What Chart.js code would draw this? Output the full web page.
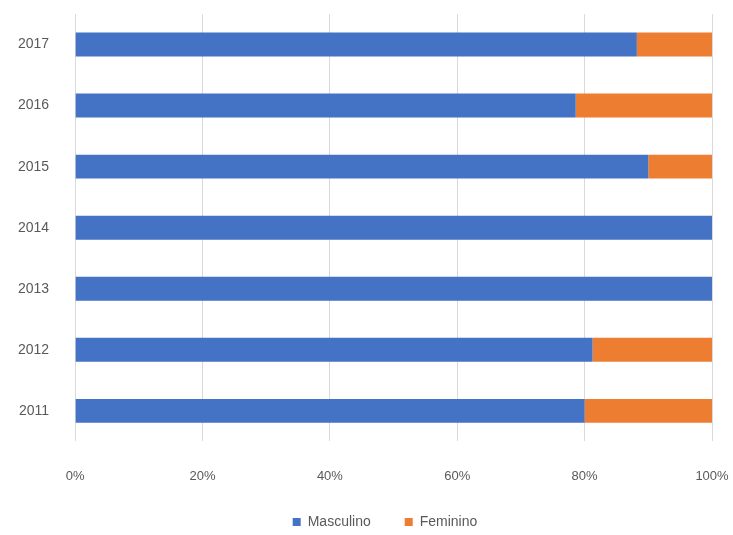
<!DOCTYPE html>
<html>
<head>
<meta charset="utf-8">
<script src="https://cdn.jsdelivr.net/npm/chart.js@4"></script>
<style>
  html, body { margin: 0; padding: 0; background: #fff; }
  #wrap { width: 733px; height: 535px; }
</style>
</head>
<body>
<div id="wrap"><canvas id="c"></canvas></div>
<script>
// 100% stacked bars by year, masculino vs feminino
const YEARS = ['2017', '2016', '2015', '2014', '2013', '2012', '2011'];
const MASCULINO = [88.2, 78.6, 90, 100, 100, 81.25, 80];
const FEMININO = [11.8, 21.4, 10, 0, 0, 18.75, 20];
const X_TICKS = [0, 20, 40, 60, 80, 100];

const FONT = { family: 'Liberation Sans, sans-serif', size: 13 };
const TEXT = '#595959';

// legend items spaced wide, but keep the legend box short and a bit right of centre
const legendHeight = {
  id: 'legendHeight',
  beforeInit(chart) {
    const fit = chart.legend.fit;
    chart.legend.fit = function () { fit.call(this); this.height = 54; };
  },
  afterLayout(chart) { chart.legend.left += 58; },
};

new Chart(document.getElementById('c').getContext('2d'), {
  type: 'bar',
  data: {
    labels: YEARS,
    datasets: [
      { label: 'Masculino', data: MASCULINO, backgroundColor: '#4472C4', barPercentage: 0.8, categoryPercentage: 0.49 },
      { label: 'Feminino', data: FEMININO, backgroundColor: '#ED7D31', barPercentage: 0.8, categoryPercentage: 0.49 },
    ],
  },
  options: {
    indexAxis: 'y',
    responsive: true, maintainAspectRatio: false, animation: false,
    layout: { padding: { top: 14, right: 21, left: 0, bottom: 0 } },
    plugins: {
      legend: {
        position: 'bottom',
        labels: { font: { ...FONT, size: 14 }, color: TEXT, boxWidth: 8, boxHeight: 8, padding: 34 },
      },
      tooltip: { enabled: false },
    },
    scales: {
      x: {
        stacked: true, min: 0, max: 100,
        afterBuildTicks: axis => { axis.ticks = X_TICKS.map(v => ({ value: v })); },
        afterFit: s => { s.paddingRight = 0; s.paddingLeft = 0; s.height -= 30; },
        ticks: { callback: v => v + '%', font: FONT, color: TEXT, padding: 27 },
        grid: { color: '#d9d9d9', drawTicks: false },
        border: { display: false },
      },
      y: {
        stacked: true,
        afterFit: s => { s.paddingTop = 0; s.paddingBottom = 0; },
        ticks: { font: { ...FONT, size: 14 }, color: TEXT, padding: 18 },
        grid: { display: false },
        border: { display: false },
      },
    },
  },
  plugins: [legendHeight],
});
</script>
</body>
</html>
